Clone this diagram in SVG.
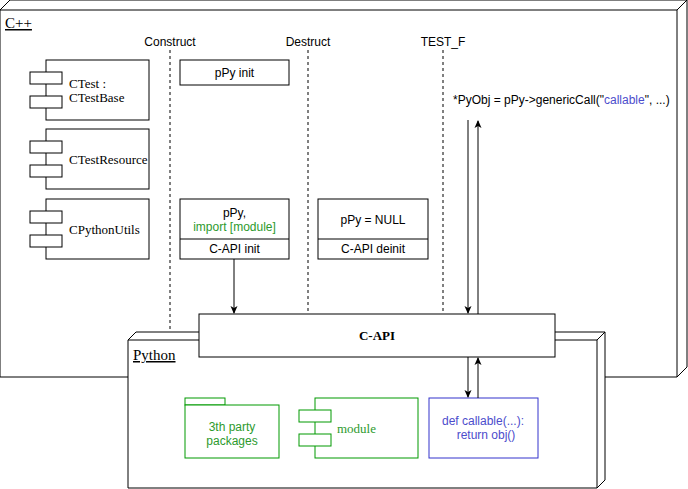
<svg xmlns="http://www.w3.org/2000/svg" width="688" height="489" viewBox="0 0 688 489">
<style>
.s{fill:#fff;stroke:#000;stroke-width:1}
.n{fill:none;stroke:#000;stroke-width:1}
.d{stroke:#000;stroke-dasharray:3 3;fill:none}
.a{font-family:"Liberation Sans",Arial,sans-serif;font-size:12px;fill:#000}
.t{font-family:"Liberation Serif","Times New Roman",serif;font-size:13px;fill:#000}
.big{font-size:15px;text-decoration:underline}
.g{fill:#fff;stroke:#009900}
.gt{fill:#2d9a2d}
.bl{fill:#4c4ccc}
.c{stroke:#000;fill:none}
</style>
<defs><marker id="ar" markerWidth="8" markerHeight="8" refX="7" refY="4" orient="auto" markerUnits="userSpaceOnUse"><path d="M0,0.5 L8,4 L0,7.5 L2,4 Z" fill="#000"/></marker></defs>
<g id="cpp">
<path class="s" d="M0,10 L10,0 L687,0 L687,367 L677,377 L0,377 Z"/>
<path class="n" d="M0,10 L677,10 L687,0 M677,10 L677,377"/>
<text class="t big" x="5" y="28">C++</text>
</g>
<g id="lifelines">
<text class="a" x="170" y="46" text-anchor="middle">Construct</text>
<text class="a" x="308" y="46" text-anchor="middle">Destruct</text>
<text class="a" x="443" y="46" text-anchor="middle">TEST_F</text>
<line class="d" x1="170" y1="50" x2="170" y2="333"/>
<line class="d" x1="308" y1="50" x2="308" y2="314"/>
<line class="d" x1="443" y1="50" x2="443" y2="314"/>
<text class="a" x="453" y="104">*PyObj = pPy-&gt;genericCall("<tspan class="bl">callable</tspan>", ...)</text>
</g>
<g id="ctest"><rect class="s" x="46" y="60" width="103" height="60"/><rect class="s" x="30" y="72" width="32" height="12"/><rect class="s" x="30" y="96" width="32" height="12"/><text class="t" x="69" y="88">CTest :</text><text class="t" x="69" y="102">CTestBase</text></g>
<g id="ctestresource"><rect class="s" x="46" y="129" width="103" height="60"/><rect class="s" x="30" y="141" width="32" height="12"/><rect class="s" x="30" y="165" width="32" height="12"/><text class="t" x="69" y="164">CTestResource</text></g>
<g id="cpythonutils"><rect class="s" x="46" y="199" width="103" height="60"/><rect class="s" x="30" y="211" width="32" height="12"/><rect class="s" x="30" y="235" width="32" height="12"/><text class="t" x="69" y="234">CPythonUtils</text></g>
<g id="ppyinit"><rect class="s" x="180" y="60" width="109" height="25"/><text class="a" x="234.5" y="77" text-anchor="middle">pPy init</text></g>
<g id="ppyimport"><rect class="s" x="180" y="199" width="109" height="60"/><line class="n" x1="180" y1="239" x2="289" y2="239"/><text class="a" x="234.5" y="217" text-anchor="middle">pPy,</text><text class="a gt" x="234.5" y="231" text-anchor="middle">import [module]</text><text class="a" x="234.5" y="253" text-anchor="middle">C-API init</text></g>
<g id="ppynull"><rect class="s" x="318" y="199" width="110" height="60"/><line class="n" x1="318" y1="239" x2="428" y2="239"/><text class="a" x="373" y="224" text-anchor="middle">pPy = NULL</text><text class="a" x="373" y="253" text-anchor="middle">C-API deinit</text></g>
<g id="python">
<path class="s" d="M128,340 L136,332 L605,332 L605,480 L597,488 L128,488 Z"/>
<path class="n" d="M128,340 L597,340 L605,332 M597,340 L597,488"/>
<text class="t big" x="133" y="360">Python</text>
</g>
<g id="capi"><rect class="s" x="199" y="314" width="356" height="43"/><text class="t" x="377" y="340" text-anchor="middle" font-weight="bold">C-API</text></g>
<g id="packages"><rect class="g" x="185" y="398" width="40" height="7"/><rect class="g" x="185" y="405" width="94" height="53"/><text class="a gt" x="232" y="431" text-anchor="middle">3th party</text><text class="a gt" x="232" y="445" text-anchor="middle">packages</text></g>
<g id="module"><rect class="g" x="315" y="398" width="103" height="60"/><rect class="g" x="299" y="410" width="32" height="12"/><rect class="g" x="299" y="434" width="32" height="12"/><text class="t gt" x="337" y="433">module</text></g>
<g id="callable"><rect x="429" y="398" width="109" height="60" fill="#fff" stroke="#3333cc"/><text class="a bl" x="483" y="425" text-anchor="middle">def callable(...):</text><text class="a bl" x="486" y="439" text-anchor="middle">return obj()</text></g>
<g id="connectors">
<line class="c" x1="234" y1="259" x2="234" y2="313" marker-end="url(#ar)"/>
<line class="c" x1="468" y1="120" x2="468" y2="313" marker-end="url(#ar)"/>
<line class="c" x1="478" y1="314" x2="478" y2="121" marker-end="url(#ar)"/>
<line class="c" x1="468" y1="357" x2="468" y2="397" marker-end="url(#ar)"/>
<line class="c" x1="478" y1="398" x2="478" y2="358" marker-end="url(#ar)"/>
</g>
</svg>
